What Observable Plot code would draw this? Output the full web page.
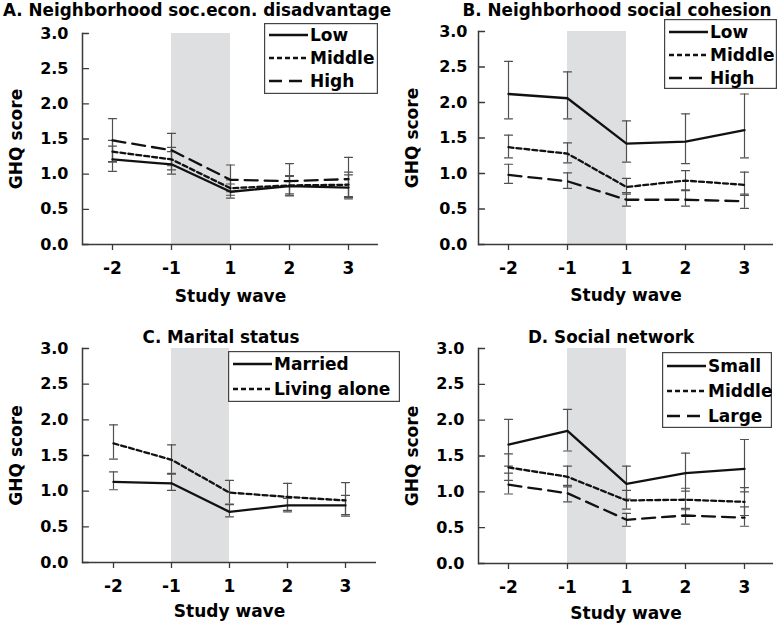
<!DOCTYPE html>
<html><head><meta charset="utf-8">
<script src="https://cdn.jsdelivr.net/npm/d3@7"></script>
<script src="https://cdn.jsdelivr.net/npm/@observablehq/plot@0.6"></script>
<style>
body{margin:0;background:#fff;}
#chart{position:relative;width:780px;height:628px;overflow:hidden;font-family:"DejaVu Sans",sans-serif;font-weight:bold;color:#000;}
.panel{position:absolute;}
.title{position:absolute;font-size:16.8px;white-space:nowrap;line-height:1;font-weight:bold;}
</style></head><body><div id="chart"></div>
<script>
// ---------- data ----------
const waves = ["-2", "-1", "1", "2", "3"];
const shadeWaves = ["-1", "1"];
const yTicks = [0, 0.5, 1, 1.5, 2, 2.5, 3];
const yLabel = "GHQ score";
const xLabel = "Study wave";

// A. Neighborhood socio-economic disadvantage
const aTitle = "A. Neighborhood soc.econ. disadvantage";
const aNames = ["Low", "Middle", "High"];
const aLowMean = [1.21, 1.14, 0.75, 0.83, 0.81];
const aLowLo   = [1.04, 1.00, 0.66, 0.69, 0.65];
const aLowHi   = [1.40, 1.32, 0.86, 0.97, 0.99];
const aMidMean = [1.32, 1.21, 0.80, 0.84, 0.85];
const aMidLo   = [1.17, 1.06, 0.70, 0.72, 0.67];
const aMidHi   = [1.48, 1.38, 0.92, 0.98, 1.03];
const aHighMean = [1.48, 1.34, 0.92, 0.90, 0.93];
const aHighLo   = [1.18, 1.12, 0.75, 0.70, 0.68];
const aHighHi   = [1.79, 1.58, 1.13, 1.15, 1.24];

// B. Neighborhood social cohesion
const bTitle = "B. Neighborhood social cohesion";
const bNames = ["Low", "Middle", "High"];
const bLowMean = [2.12, 2.06, 1.42, 1.45, 1.61];
const bLowLo   = [1.77, 1.77, 1.16, 1.14, 1.22];
const bLowHi   = [2.58, 2.43, 1.74, 1.84, 2.12];
const bMidMean = [1.37, 1.28, 0.81, 0.90, 0.84];
const bMidLo   = [1.22, 1.15, 0.71, 0.76, 0.69];
const bMidHi   = [1.54, 1.43, 0.93, 1.04, 1.02];
const bHighMean = [0.98, 0.89, 0.63, 0.63, 0.61];
const bHighLo   = [0.86, 0.79, 0.54, 0.54, 0.51];
const bHighHi   = [1.13, 1.01, 0.73, 0.77, 0.71];

// C. Marital status
const cTitle = "C. Marital status";
const cNames = ["Married", "Living alone"];
const cMarMean = [1.13, 1.11, 0.71, 0.80, 0.80];
const cMarLo   = [1.02, 1.01, 0.64, 0.71, 0.65];
const cMarHi   = [1.27, 1.24, 0.81, 0.90, 0.94];
const cAloneMean = [1.67, 1.44, 0.98, 0.92, 0.87];
const cAloneLo   = [1.45, 1.25, 0.82, 0.73, 0.67];
const cAloneHi   = [1.93, 1.65, 1.15, 1.11, 1.12];

// D. Social network
const dTitle = "D. Social network";
const dNames = ["Small", "Middle", "Large"];
const dSmallMean = [1.66, 1.85, 1.11, 1.26, 1.32];
const dSmallLo   = [1.36, 1.57, 0.90, 1.01, 1.00];
const dSmallHi   = [2.01, 2.15, 1.36, 1.54, 1.73];
const dMidMean = [1.34, 1.21, 0.88, 0.89, 0.86];
const dMidLo   = [1.16, 1.07, 0.76, 0.75, 0.67];
const dMidHi   = [1.53, 1.36, 1.02, 1.05, 1.06];
const dLargeMean = [1.10, 0.98, 0.61, 0.67, 0.64];
const dLargeLo   = [0.97, 0.86, 0.52, 0.55, 0.52];
const dLargeHi   = [1.26, 1.09, 0.70, 0.77, 0.79];

// ---------- styles / layout ----------
const dashes = [null, "5,3", "13,7"];
const lineColor = "#111";
const axisColor = "#3a3a3a";
const errColor = "#505050";
const shadeColor = "#dedfe1";

const panels = [
  {left: 0, top: 0, ml: 82, mr: 12, mt: 33, mb: 70, yPad: 14, labelDy: 52,
   title: aTitle, titleX: 3, titleAnchor: "start", titleTop: 2,
   legend: {left: 264, top: 23, w: 114, h: 71, first: 12, step: 23},
   names: aNames, means: [aLowMean, aMidMean, aHighMean], los: [aLowLo, aMidLo, aHighLo], his: [aLowHi, aMidHi, aHighHi]},
  {left: 390, top: 0, ml: 88, mr: 7, mt: 31, mb: 70, yPad: 11, labelDy: 51,
   title: bTitle, titleX: 617, titleAnchor: "middle", titleTop: 2,
   legend: {left: 664, top: 19, w: 113, h: 70, first: 13, step: 23},
   names: bNames, means: [bLowMean, bMidMean, bHighMean], los: [bLowLo, bMidLo, bHighLo], his: [bLowHi, bMidHi, bHighHi]},
  {left: 0, top: 314, ml: 82, mr: 14, mt: 34, mb: 66, yPad: 14, labelDy: 49,
   title: cTitle, titleX: 221, titleAnchor: "middle", titleTop: 329,
   legend: {left: 228, top: 351, w: 172, h: 51, first: 13, step: 25},
   names: cNames, means: [cMarMean, cAloneMean], los: [cMarLo, cAloneLo], his: [cMarHi, cAloneHi]},
  {left: 390, top: 314, ml: 88, mr: 7, mt: 34, mb: 65, yPad: 14, labelDy: 50,
   title: dTitle, titleX: 611, titleAnchor: "middle", titleTop: 329,
   legend: {left: 662, top: 352, w: 110, h: 76, first: 14, step: 25},
   names: dNames, means: [dSmallMean, dMidMean, dLargeMean], los: [dSmallLo, dMidLo, dLargeLo], his: [dSmallHi, dMidHi, dLargeHi]}
];

const chart = document.getElementById("chart");
const tickShape = {draw(context, l) { context.moveTo(0, 0); context.lineTo(0, -l); }};
const capShape = {draw(context, l) { context.moveTo(0, l / 2); context.lineTo(0, -l / 2); }};

function makePanel(p) {
  const rows = [];
  p.names.forEach((name, s) => waves.forEach((w, i) => rows.push({group: name, s, wave: w, mean: p.means[s][i], lo: p.los[s][i], hi: p.his[s][i]})));
  const lineMarks = p.names.map((name, s) => Plot.line(rows.filter(d => d.s === s), {
    x: "wave", y: "mean", stroke: lineColor, strokeWidth: 2.3, strokeDasharray: dashes[s] ?? undefined
  }));
  const yMin = yTicks[0], yMax = yTicks[yTicks.length - 1];
  const plot = Plot.plot({
    width: 390, height: 314,
    marginLeft: p.ml, marginRight: p.mr, marginTop: p.mt, marginBottom: p.mb,
    style: {fontFamily: "DejaVu Sans, sans-serif", fontWeight: "bold", color: "#000", background: "transparent", overflow: "visible"},
    x: {type: "point", domain: waves, padding: 0.5},
    y: {domain: [yMin, yMax]},
    marks: [
      Plot.areaY(shadeWaves, {x: d => d, y1: () => yMin, y2: () => yMax, fill: shadeColor}),
      Plot.ruleX(rows, {x: "wave", y1: "lo", y2: "hi", stroke: errColor, strokeWidth: 1.2}),
      Plot.vector(rows, {x: "wave", y: "lo", length: 8, rotate: 90, anchor: "start", shape: capShape, stroke: errColor, strokeWidth: 1.2}),
      Plot.vector(rows, {x: "wave", y: "hi", length: 8, rotate: 90, anchor: "start", shape: capShape, stroke: errColor, strokeWidth: 1.2}),
      ...lineMarks,
      Plot.ruleY([yMin], {stroke: axisColor, strokeWidth: 1.5}),
      Plot.frame({anchor: "left", stroke: axisColor, strokeWidth: 1.5}),
      Plot.vector(yTicks, {y: d => d, frameAnchor: "left", length: 6, rotate: 90, anchor: "start", shape: tickShape, stroke: axisColor, strokeWidth: 1.3}),
      Plot.axisY({ticks: yTicks, tickFormat: d3.format(".1f"), tickSize: 0, tickPadding: p.yPad, fontSize: 16, fontWeight: "bold", label: null}),
      Plot.axisX({tickSize: 6, tickPadding: 11, fontSize: 17, fontWeight: "bold", label: null, stroke: axisColor, strokeWidth: 1.3}),
      Plot.text([yLabel], {text: d => d, frameAnchor: "left", textAnchor: "middle", lineAnchor: "middle", dx: -66, rotate: -90, fontSize: 17, fontWeight: "bold", fill: "#000"}),
      Plot.text([xLabel], {text: d => d, frameAnchor: "bottom", textAnchor: "middle", lineAnchor: "middle", dy: p.labelDy, fontSize: 17, fontWeight: "bold", fill: "#000"})
    ]
  });
  plot.classList.add("panel");
  plot.style.left = p.left + "px";
  plot.style.top = p.top + "px";
  chart.appendChild(plot);
}

function makeTitle(p) {
  const t = document.createElement("div");
  t.className = "title";
  t.textContent = p.title;
  t.style.left = p.titleX + "px";
  t.style.top = p.titleTop + "px";
  if (p.titleAnchor === "middle") t.style.transform = "translateX(-50%)";
  chart.appendChild(t);
}

function makeLegend(p) {
  const L = p.legend;
  const svg = d3.create("svg").attr("width", L.w).attr("height", L.h)
    .style("position", "absolute").style("left", L.left + "px").style("top", L.top + "px").style("overflow", "visible");
  svg.append("rect").attr("x", 0.6).attr("y", 0.6).attr("width", L.w - 1.2).attr("height", L.h - 1.2)
    .attr("fill", "#fff").attr("stroke", "#444").attr("stroke-width", 1.2);
  p.names.forEach((name, s) => {
    const y = L.first + s * L.step;
    svg.append("line").attr("x1", 5).attr("x2", 44).attr("y1", y).attr("y2", y)
      .attr("stroke", lineColor).attr("stroke-width", 2.3).attr("stroke-dasharray", dashes[s]);
    svg.append("text").attr("x", 46).attr("y", y).attr("dy", "0.36em")
      .attr("font-family", "DejaVu Sans, sans-serif").attr("font-weight", "bold").attr("font-size", 17).text(name);
  });
  chart.appendChild(svg.node());
}

panels.forEach(makePanel);
panels.forEach(makeTitle);
panels.forEach(makeLegend);
</script></body></html>
